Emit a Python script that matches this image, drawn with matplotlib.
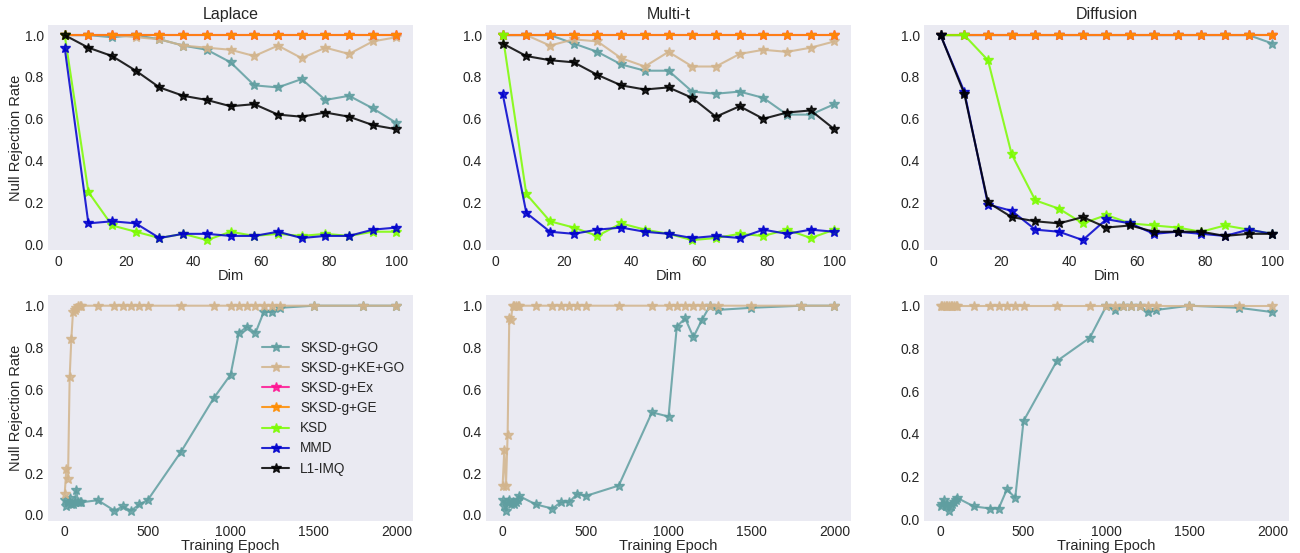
import numpy as np
import matplotlib
matplotlib.use("Agg")
import matplotlib.pyplot as plt

plt.style.use("seaborn-v0_8-dark")
plt.rcParams['font.family'] = ['Liberation Sans', 'DejaVu Sans']

methods = ["SKSD-g+GO", "SKSD-g+KE+GO", "SKSD-g+Ex", "SKSD-g+GE", "KSD", "MMD", "L1-IMQ"]
colors = ["cadetblue", "tan", "deeppink", "darkorange", "lawngreen", "mediumblue", "black"]

dims = [2, 9, 16, 23, 30, 37, 44, 51, 58, 65, 72, 79, 86, 93, 100]
ones15 = [1.0] * 15

laplace = {
    "SKSD-g+GO": [1.0, 1.0, 0.99, 1.0, 0.98, 0.95, 0.93, 0.87, 0.76, 0.75, 0.79, 0.69, 0.71, 0.65, 0.58],
    "SKSD-g+KE+GO": [1.0, 1.0, 1.0, 0.99, 0.98, 0.95, 0.94, 0.93, 0.90, 0.95, 0.89, 0.94, 0.91, 0.97, 0.99],
    "SKSD-g+Ex": ones15,
    "SKSD-g+GE": ones15,
    "KSD": [1.0, 0.25, 0.09, 0.06, 0.03, 0.05, 0.02, 0.06, 0.04, 0.05, 0.04, 0.05, 0.04, 0.06, 0.06],
    "MMD": [0.94, 0.10, 0.11, 0.10, 0.03, 0.05, 0.05, 0.04, 0.04, 0.06, 0.03, 0.04, 0.04, 0.07, 0.08],
    "L1-IMQ": [1.0, 0.94, 0.90, 0.83, 0.75, 0.71, 0.69, 0.66, 0.67, 0.62, 0.61, 0.63, 0.61, 0.57, 0.55],
}
multit = {
    "SKSD-g+GO": [1.0, 1.0, 1.0, 0.96, 0.92, 0.86, 0.83, 0.83, 0.73, 0.72, 0.73, 0.70, 0.62, 0.62, 0.67],
    "SKSD-g+KE+GO": [1.0, 1.0, 0.95, 0.98, 0.97, 0.89, 0.85, 0.92, 0.85, 0.85, 0.91, 0.93, 0.92, 0.94, 0.97],
    "SKSD-g+Ex": ones15,
    "SKSD-g+GE": ones15,
    "KSD": [1.0, 0.24, 0.11, 0.08, 0.04, 0.10, 0.07, 0.05, 0.02, 0.03, 0.05, 0.04, 0.07, 0.03, 0.07],
    "MMD": [0.72, 0.15, 0.06, 0.05, 0.07, 0.08, 0.06, 0.05, 0.03, 0.04, 0.03, 0.07, 0.05, 0.07, 0.06],
    "L1-IMQ": [0.96, 0.90, 0.88, 0.87, 0.81, 0.76, 0.74, 0.75, 0.70, 0.61, 0.66, 0.60, 0.63, 0.64, 0.55],
}
diffusion = {
    "SKSD-g+GO": [1.0] * 14 + [0.96],
    "SKSD-g+KE+GO": ones15,
    "SKSD-g+Ex": ones15,
    "SKSD-g+GE": ones15,
    "KSD": [1.0, 1.0, 0.88, 0.43, 0.21, 0.17, 0.10, 0.14, 0.10, 0.09, 0.08, 0.06, 0.09, 0.07, 0.05],
    "MMD": [1.0, 0.73, 0.19, 0.16, 0.07, 0.06, 0.02, 0.12, 0.10, 0.05, 0.06, 0.05, 0.04, 0.07, 0.05],
    "L1-IMQ": [1.0, 0.72, 0.20, 0.13, 0.11, 0.10, 0.13, 0.08, 0.09, 0.06, 0.06, 0.06, 0.04, 0.05, 0.05],
}

epochs = [0, 10, 20, 30, 40, 50, 60, 70, 80, 90, 100, 200, 300, 350, 400, 450, 500,
          700, 900, 1000, 1050, 1100, 1150, 1200, 1250, 1300, 1500, 1800, 2000]

laplace_ep = {
    "SKSD-g+GO": [0.07, 0.04, 0.06, 0.08, 0.05, 0.05, 0.06, 0.12, 0.06, 0.06, 0.06, 0.07, 0.02, 0.04,
                  0.02, 0.05, 0.07, 0.30, 0.56, 0.67, 0.87, 0.90, 0.87, 0.97, 0.97, 0.99, 1.0, 1.0, 1.0],
    "SKSD-g+KE+GO": [0.10, 0.22, 0.17, 0.66, 0.84, 0.97, 0.98, 0.99, 1.0, 1.0, 1.0] + [1.0] * 18,
}
multit_ep = {
    "SKSD-g+GO": [0.07, 0.04, 0.02, 0.06, 0.07, 0.05, 0.06, 0.05, 0.06, 0.07, 0.09, 0.05, 0.03, 0.06,
                  0.06, 0.10, 0.09, 0.14, 0.49, 0.47, 0.90, 0.94, 0.85, 0.93, 1.0, 0.98, 0.99, 1.0, 1.0],
    "SKSD-g+KE+GO": [0.14, 0.31, 0.14, 0.38, 0.94, 0.93, 1.0, 1.0, 1.0, 1.0, 1.0] + [1.0] * 18,
}
diffusion_ep = {
    "SKSD-g+GO": [0.06, 0.07, 0.09, 0.06, 0.07, 0.04, 0.06, 0.07, 0.08, 0.09, 0.10, 0.06, 0.05, 0.05,
                  0.14, 0.10, 0.46, 0.74, 0.85, 1.0, 0.98, 1.0, 1.0, 1.0, 0.97, 0.98, 1.0, 0.99, 0.97],
    "SKSD-g+KE+GO": [1.0] * 29,
}

titles = ["Laplace", "Multi-t", "Diffusion"]
top_data = [laplace, multit, diffusion]
bottom_data = [laplace_ep, multit_ep, diffusion_ep]

fig, axes = plt.subplots(2, 3, figsize=(13, 5.53), dpi=100)
fig.subplots_adjust(left=0.037, right=0.9915, top=0.955, bottom=0.058, wspace=0.2, hspace=0.2)

for j in range(3):
    ax = axes[0, j]
    for m, c in zip(methods, colors):
        ax.plot(dims, top_data[j][m], color=c, marker="*", markersize=7, linewidth=1.5,
                alpha=0.85, label=m)
    ax.set_title(titles[j], fontsize=11.5, pad=4)
    ax.set_xlabel("Dim", fontsize=10.5, labelpad=0)
    ax.set_xticks([0, 20, 40, 60, 80, 100])

    ax = axes[1, j]
    for m, c in zip(methods, colors):
        if m in bottom_data[j]:
            ax.plot(epochs, bottom_data[j][m], color=c, marker="*", markersize=7, linewidth=1.5,
                    alpha=0.85, label=m)
    ax.set_xlabel("Training Epoch", fontsize=10.5, labelpad=0)
    ax.set_xticks([0, 500, 1000, 1500, 2000])

for ax in axes.flat:
    ax.set_yticks([0.0, 0.2, 0.4, 0.6, 0.8, 1.0])
    ax.tick_params(labelsize=10, pad=3)

axes[0, 0].set_ylabel("Null Rejection Rate", fontsize=10.5, labelpad=1)
axes[1, 0].set_ylabel("Null Rejection Rate", fontsize=10.5, labelpad=1)

handles, labels = axes[0, 0].get_legend_handles_labels()
axes[1, 0].legend(handles, labels, loc="center right", fontsize=9.8, frameon=False,
                  bbox_to_anchor=(1.01, 0.5), labelspacing=0.45)

fig.savefig("out.png", dpi=100)
